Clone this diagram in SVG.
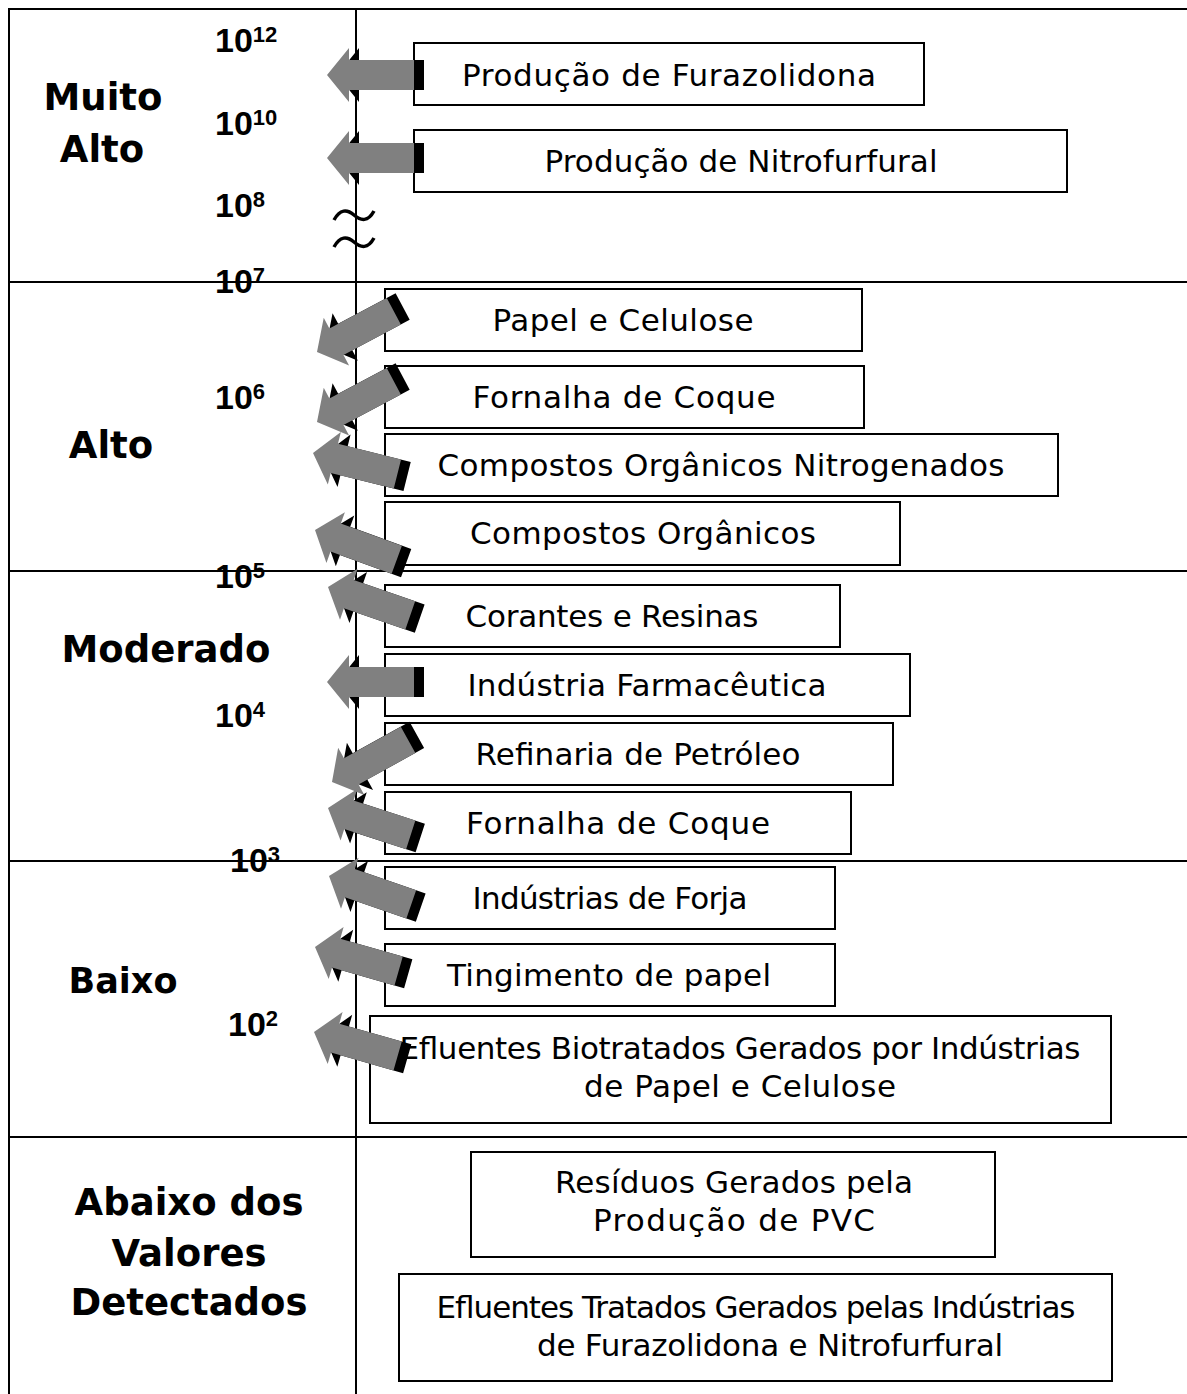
<svg xmlns="http://www.w3.org/2000/svg" xmlns:xlink="http://www.w3.org/1999/xlink" width="1187" height="1394" viewBox="0 0 1187 1394">
<style>
.grid{stroke:#000;stroke-width:2;fill:none}
.box{fill:#fff;stroke:#000;stroke-width:2}
.t{font-family:"DejaVu Sans","Liberation Sans",sans-serif;font-size:31px;fill:#000;text-anchor:middle}
.lab{font-family:"DejaVu Sans","Liberation Sans",sans-serif;font-size:37px;font-weight:bold;fill:#000;text-anchor:middle}
.num{font-family:"Liberation Sans","DejaVu Sans",sans-serif;font-size:34px;font-weight:bold;fill:#000}
.sup{font-size:22px}
</style>
<defs>
<path id="ar" d="M0,0 L22,-27 L22,-15 L87,-15 L87,15 L22,15 L22,27 Z"/>
<g id="arr3d">
<use xlink:href="#ar" href="#ar" x="10" fill="#000"/>
<use xlink:href="#ar" href="#ar" fill="#808080"/>
</g>
</defs>
<rect width="1187" height="1394" fill="#fff"/>
<g id="grid">
<line class="grid" x1="9" y1="9" x2="1187" y2="9"/>
<line class="grid" x1="9" y1="8" x2="9" y2="1394"/>
<line class="grid" x1="356" y1="9" x2="356" y2="1394"/>
<line class="grid" x1="9" y1="282" x2="1187" y2="282"/>
<line class="grid" x1="9" y1="571" x2="1187" y2="571"/>
<line class="grid" x1="9" y1="861" x2="1187" y2="861"/>
<line class="grid" x1="9" y1="1137" x2="1187" y2="1137"/>
<path class="grid" style="stroke-width:3.5" d="M334,220 C340,209 347,209 354,215 S368,222 374,211"/>
<path class="grid" style="stroke-width:3.5" d="M334,247 C340,236 347,236 354,242 S368,249 374,238"/>
</g>
<g id="labels">
<text class="lab" x="103" y="110">Muito</text>
<text class="lab" x="102" y="162">Alto</text>
<text class="lab" x="111" y="458">Alto</text>
<text class="lab" x="166" y="662">Moderado</text>
<text class="lab" x="123" y="993" style="font-size:35px">Baixo</text>
<text class="lab" x="189" y="1215">Abaixo dos</text>
<text class="lab" x="189" y="1266">Valores</text>
<text class="lab" x="189" y="1315">Detectados</text>
<text class="num" x="215" y="52">10<tspan class="sup" dy="-10">12</tspan></text>
<text class="num" x="215" y="135">10<tspan class="sup" dy="-10">10</tspan></text>
<text class="num" x="215" y="217">10<tspan class="sup" dy="-10">8</tspan></text>
<text class="num" x="215" y="293">10<tspan class="sup" dy="-10">7</tspan></text>
<text class="num" x="215" y="409">10<tspan class="sup" dy="-10">6</tspan></text>
<text class="num" x="215" y="588">10<tspan class="sup" dy="-10">5</tspan></text>
<text class="num" x="215" y="727">10<tspan class="sup" dy="-10">4</tspan></text>
<text class="num" x="230" y="872">10<tspan class="sup" dy="-10">3</tspan></text>
<text class="num" x="228" y="1036">10<tspan class="sup" dy="-10">2</tspan></text>
</g>
<g id="n1"><rect class="box" x="414" y="43" width="510" height="62"/><text class="t" x="669" y="86" textLength="414">Produção de Furazolidona</text></g>
<g id="n2"><rect class="box" x="414" y="130" width="653" height="62"/><text class="t" x="741" y="172" textLength="393">Produção de Nitrofurfural</text></g>
<g id="n3"><rect class="box" x="385" y="289" width="477" height="62"/><text class="t" x="623" y="331" textLength="261">Papel e Celulose</text></g>
<g id="n4"><rect class="box" x="385" y="366" width="479" height="62"/><text class="t" x="624" y="408" textLength="303">Fornalha de Coque</text></g>
<g id="n5"><rect class="box" x="385" y="434" width="673" height="62"/><text class="t" x="721" y="476" textLength="567">Compostos Orgânicos Nitrogenados</text></g>
<g id="n6"><rect class="box" x="385" y="502" width="515" height="63"/><text class="t" x="643" y="544" textLength="346">Compostos Orgânicos</text></g>
<g id="n7"><rect class="box" x="385" y="585" width="455" height="62"/><text class="t" x="612" y="627" textLength="293">Corantes e Resinas</text></g>
<g id="n8"><rect class="box" x="385" y="654" width="525" height="62"/><text class="t" x="647" y="696" textLength="359">Indústria Farmacêutica</text></g>
<g id="n9"><rect class="box" x="385" y="723" width="508" height="62"/><text class="t" x="638" y="765" textLength="325">Refinaria de Petróleo</text></g>
<g id="n10"><rect class="box" x="385" y="792" width="466" height="62"/><text class="t" x="618" y="834" textLength="304">Fornalha de Coque</text></g>
<g id="n11"><rect class="box" x="385" y="867" width="450" height="62"/><text class="t" x="610" y="909" textLength="275">Indústrias de Forja</text></g>
<g id="n12"><rect class="box" x="385" y="944" width="450" height="62"/><text class="t" x="609" y="986" textLength="324">Tingimento de papel</text></g>
<g id="n13"><rect class="box" x="370" y="1016" width="741" height="107"/><text class="t" x="740" y="1059" textLength="681">Efluentes Biotratados Gerados por Indústrias</text><text class="t" x="740" y="1097" textLength="312">de Papel e Celulose</text></g>
<g id="n14"><rect class="box" x="471" y="1152" width="524" height="105"/><text class="t" x="734" y="1193" textLength="358">Resíduos Gerados pela</text><text class="t" x="734" y="1231" textLength="282">Produção de PVC</text></g>
<g id="n15"><rect class="box" x="399" y="1274" width="713" height="107"/><text class="t" x="756" y="1318" textLength="639">Efluentes Tratados Gerados pelas Indústrias</text><text class="t" x="770" y="1356" textLength="466">de Furazolidona e Nitrofurfural</text></g>
<g id="connectors">
<use xlink:href="#arr3d" href="#arr3d" transform="translate(327,75)"/>
<use xlink:href="#arr3d" href="#arr3d" transform="translate(327,158)"/>
<use xlink:href="#arr3d" href="#arr3d" transform="translate(317,352) rotate(-28)"/>
<use xlink:href="#arr3d" href="#arr3d" transform="translate(317,422) rotate(-28)"/>
<use xlink:href="#arr3d" href="#arr3d" transform="translate(313,453) rotate(14)"/>
<use xlink:href="#arr3d" href="#arr3d" transform="translate(315,530) rotate(20)"/>
<use xlink:href="#arr3d" href="#arr3d" transform="translate(328,587) rotate(19)"/>
<use xlink:href="#arr3d" href="#arr3d" transform="translate(327,682)"/>
<use xlink:href="#arr3d" href="#arr3d" transform="translate(332,782) rotate(-29)"/>
<use xlink:href="#arr3d" href="#arr3d" transform="translate(328,808) rotate(18)"/>
<use xlink:href="#arr3d" href="#arr3d" transform="translate(329,876) rotate(19)"/>
<use xlink:href="#arr3d" href="#arr3d" transform="translate(315,947) rotate(16)"/>
<use xlink:href="#arr3d" href="#arr3d" transform="translate(314,1032) rotate(16)"/>
</g>
</svg>
